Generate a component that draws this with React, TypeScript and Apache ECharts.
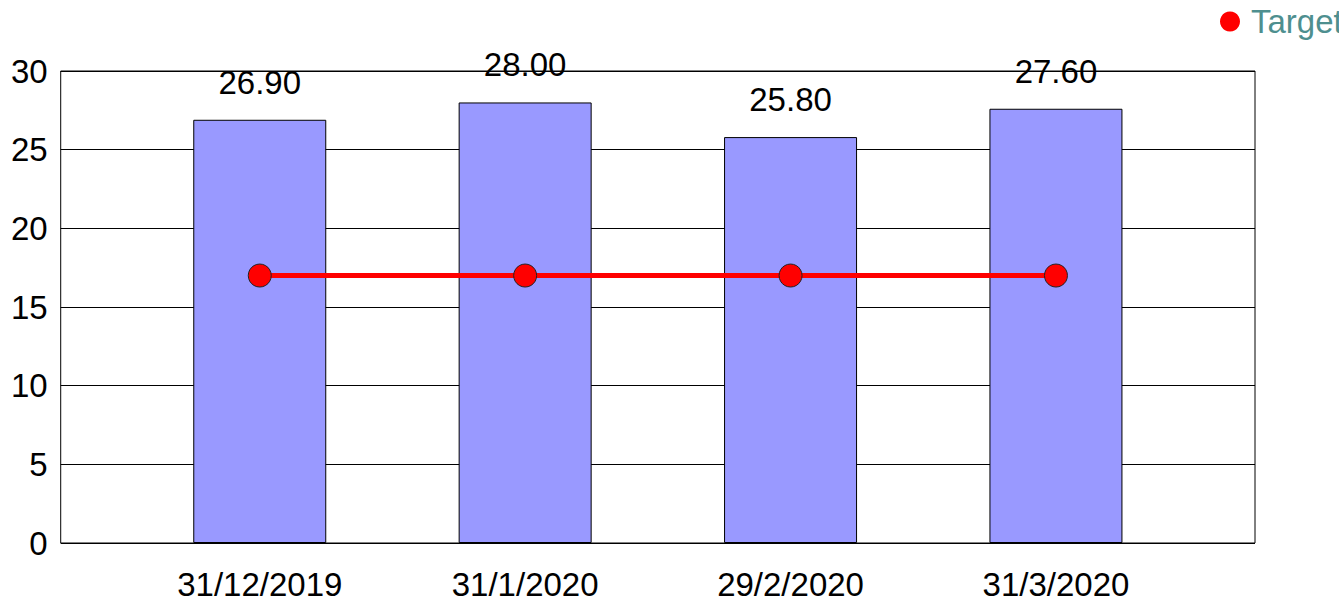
import React, { useEffect, useRef } from "react";
import * as echarts from "echarts";

const categories = ["31/12/2019", "31/1/2020", "29/2/2020", "31/3/2020"];
const barValues = [26.9, 28.0, 25.8, 27.6];
const targetValues = [17, 17, 17, 17];
const yTicks = { min: 0, max: 30, interval: 5 };

const FONT = "'Liberation Sans', Arial, sans-serif";
const FS = 33;

export default function App() {
  const ref = useRef<HTMLDivElement>(null);
  useEffect(() => {
    if (!ref.current) return;
    const chart = echarts.init(ref.current, null, { renderer: "svg" });
    const idx = categories.map((_, i) => i);
    chart.setOption({
      animation: false,
      textStyle: { fontFamily: FONT },
      grid: {
        left: 51,
        top: 63,
        width: 1196,
        height: 472,
        show: true,
        borderColor: "#000",
        borderWidth: 1,
        containLabel: false,
      },
      legend: {
        data: ["Target"],
        left: 1212,
        top: -3,
        padding: 0,
        icon: "circle",
        itemWidth: 20,
        itemHeight: 20,
        itemStyle: { borderWidth: 0 },
        textStyle: { fontSize: FS, color: "#4e8f8f", fontFamily: FONT, padding: [0, 0, 0, 6] },
      },
      xAxis: {
        type: "value",
        min: -0.75,
        max: 3.75,
        splitLine: { show: false },
        axisLine: { show: false },
        axisTick: { show: false },
        axisLabel: {
          customValues: idx,
          formatter: (v: number) => categories[Math.round(v)] ?? "",
          fontSize: FS,
          color: "#000",
          margin: 25,
          fontFamily: FONT,
        },
      },
      yAxis: {
        type: "value",
        min: yTicks.min,
        max: yTicks.max,
        interval: yTicks.interval,
        axisLine: { show: false },
        axisTick: { show: false },
        splitLine: { show: true, lineStyle: { color: "#000", width: 1 } },
        axisLabel: { fontSize: FS, color: "#000", margin: 13, fontFamily: FONT },
      },
      series: [
        {
          name: "Value",
          type: "bar",
          barWidth: 133,
          data: barValues.map((v, i) => [i, v]),
          itemStyle: { color: "#9999ff", borderColor: "#000", borderWidth: 1 },
          label: {
            show: true,
            position: "top",
            distance: 21,
            fontSize: FS,
            color: "#000",
            fontFamily: FONT,
            formatter: (p: any) => Number(p.value[1]).toFixed(2),
          },
          z: 1,
        },
        {
          name: "Target",
          type: "line",
          data: targetValues.map((v, i) => [i, v]),
          lineStyle: { color: "#ff0000", width: 5 },
          itemStyle: { color: "#ff0000", borderColor: "#222", borderWidth: 1 },
          symbol: "circle",
          symbolSize: 23,
          z: 3,
        },
      ],
    });
    return () => chart.dispose();
  }, []);
  return (
    <div
      style={{
        position: "absolute",
        left: 8,
        top: 8,
        width: 1331,
        height: 594,
        overflow: "hidden",
      }}
    >
      <div ref={ref} style={{ width: 1400, height: 594 }} />
    </div>
  );
}
